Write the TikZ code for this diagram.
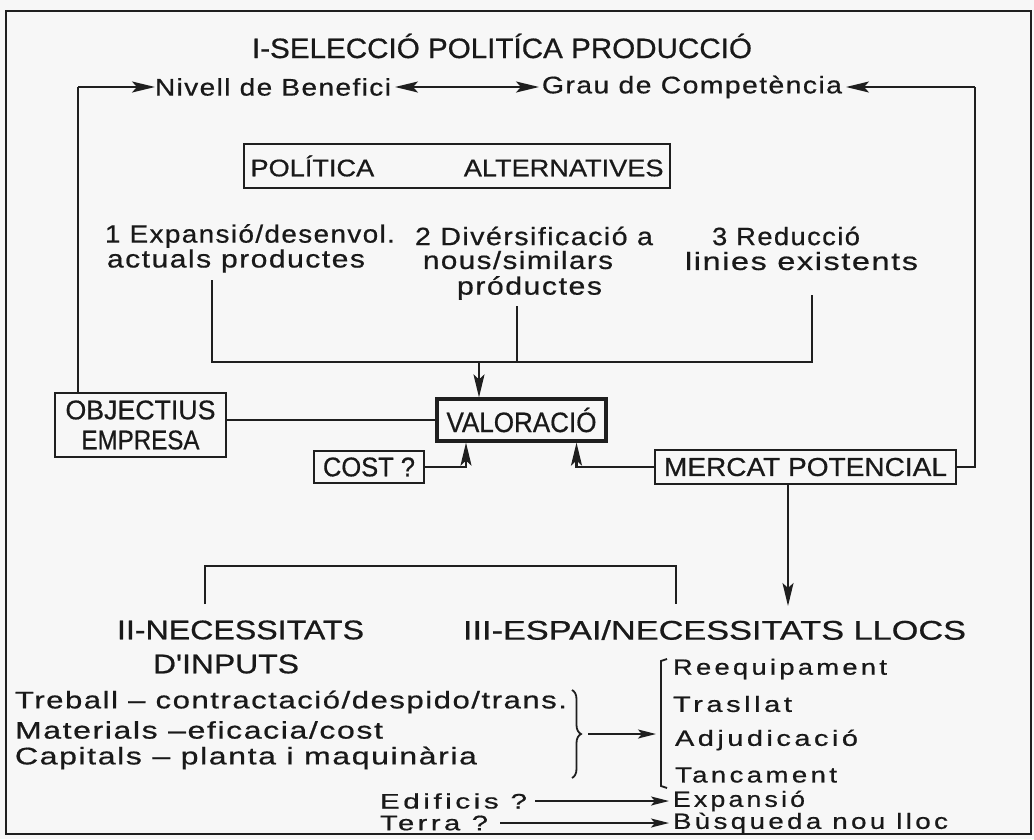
\documentclass[tikz,border=0pt]{standalone}
\usepackage{fontspec}
\setmainfont[FakeBold=0.6]{Liberation Sans}
\newfontfamily\spf[LetterSpace=5,FakeBold=0.6]{Liberation Sans}
\newfontfamily\rsp[LetterSpace=12,FakeBold=0.6]{Liberation Sans}
\usetikzlibrary{arrows.meta,decorations.pathreplacing}
\newsavebox\tbox
\newcommand\T[2]{\sbox\tbox{#2}\scalebox{\fpeval{(#1)/(\the\wd\tbox)}}[1]{\usebox\tbox}}
\newcommand\fs[1]{\fontsize{#1}{#1}\selectfont}
\begin{document}
\begin{tikzpicture}[x=1pt,y=-1pt,
 ink/.style={draw=black!88, line width=2.1pt},
 txt/.style={inner sep=0pt, outer sep=0pt, anchor=west, text=black!90},
 box/.style={draw=black!88, line width=2.1pt, inner sep=0pt, text=black!90, align=center},
 arr/.style={-{Stealth[length=23pt,width=11pt,inset=5pt]}},
 darr/.style={{Stealth[length=23pt,width=11pt,inset=5pt]}-{Stealth[length=23pt,width=11pt,inset=5pt]}},
 arrs/.style={-{Stealth[length=18pt,width=9pt,inset=4pt]}},
]
\fill[gray!6] (0,0) rectangle (1034,839);
\useasboundingbox (0,0) rectangle (1034,839);
\draw[ink] (6,11) rectangle (1031,834);

% title row
\node[txt, font=\fs{28}] (title) at (252,46) {\T{500pt}{I-SELECCIÓ POLITÍCA PRODUCCIÓ}};
\node[txt, font=\fs{24}] (niv) at (155,87) {\T{236pt}{\spf Nivell de Benefici}};
\node[txt, font=\fs{24}] (grau) at (542,87) {\T{300pt}{\spf Grau de Competència}};
\coordinate (tl) at (78,87);
\coordinate (tr) at (975,87);
\draw[ink,arr] (tl) -- (niv.west);
\draw[ink,darr] ([xshift=4pt]niv.east) -- ([xshift=-3pt]grau.west);
\draw[ink,arr] (tr) -- ([xshift=4pt]grau.east);

% policy box
\node[box, font=\fs{24}, minimum width=426pt, minimum height=44pt] (pol) at (457,166) {\T{413pt}{POLÍTICA\hspace{3.3em}ALTERNATIVES}};

% alternatives
\node[txt, font=\fs{25}] (a1) at (105,236) {\T{290pt}{\spf 1 Expansió/desenvol.}};
\node[txt, font=\fs{25}] (a1b) at (107,261) {\T{258pt}{\spf actuals productes}};
\node[txt, font=\fs{25}] (a2) at (415,236) {\T{238pt}{\spf 2 Divérsificació a}};
\node[txt, font=\fs{25}] (a2b) at (423,260) {\T{190pt}{\spf nous/similars}};
\node[txt, font=\fs{25}] (a2c) at (457,288) {\T{145pt}{\spf próductes}};
\node[txt, font=\fs{25}] (a3) at (712,236) {\T{148pt}{\spf 3 Reducció}};
\node[txt, font=\fs{25}] (a3b) at (685,261) {\T{233pt}{\spf linies existents}};

% boxes
\node[box, font=\fs{27}, minimum width=171pt, minimum height=64pt] (obj) at (140.5,425) {\T{150pt}{OBJECTIUS}\\[3pt]\T{118pt}{EMPRESA}};
\node[box, font=\fs{28}, line width=3.2pt, minimum width=169pt, minimum height=42pt] (val) at (521.5,420) {\T{150pt}{VALORACIÓ}};
\node[box, font=\fs{27}, minimum width=110pt, minimum height=32pt] (cost) at (369,467) {\T{92pt}{COST ?}};
\node[box, font=\fs{26}, minimum width=301pt, minimum height=34pt] (merc) at (805.5,467) {\T{283pt}{MERCAT POTENCIAL}};

% alternatives connectors
\coordinate (v1) at (212,280);
\coordinate (v2) at (517,306);
\coordinate (v3) at (812,295);
\coordinate (j) at (479,362);
\draw[ink] (v1) |- (j -| v3) -- (v3);
\draw[ink] (v2) -- (v2 |- j);
\draw[ink,arr] (j) -- (val.north -| j);

% other connectors
\draw[ink] (tl) -- (tl |- obj.north);
\draw[ink] (obj.east |- val.west) -- (val.west);
\draw[ink,arr] (cost.east) -| ([xshift=-55.5pt]val.south);
\draw[ink,arr] (merc.west) -| ([xshift=55pt]val.south);
\draw[ink] (merc.east) -| (tr);
\coordinate (m3) at (788,606);
\draw[ink,arr] ([xshift=-17.5pt]merc.south) -- (m3);

% section headings
\node[txt, font=\fs{27}] (ii) at (117,630) {\T{247pt}{II-NECESSITATS}};
\node[txt, font=\fs{27}] (iib) at (153,664) {\T{146pt}{D\textquotesingle INPUTS}};
\node[txt, font=\fs{27}] (iii) at (463,630) {\T{503pt}{III-ESPAI/NECESSITATS LLOCS}};
\coordinate (b1) at (205,604);
\coordinate (b2) at (676,604);
\draw[ink] (b1) -- ++(0,-38) -| (b2);

% inputs list
\node[txt, font=\fs{24}] (l1) at (15,702) {\T{552pt}{\spf Treball – contractació/despido/trans.}};
\node[txt, font=\fs{24}] (l2) at (15,730) {\T{368pt}{\spf Materials –eficacia/cost}};
\node[txt, font=\fs{24}] (l3) at (15,758) {\T{462pt}{\spf Capitals – planta i maquinària}};
\draw[ink, line width=1.8pt, decorate, decoration={brace, amplitude=9pt}] (572,690) -- (572,778);
\coordinate (bt) at (588,734);
\coordinate (bk) at (656,734);
\draw[ink,arrs] (bt) -- (bk);
\draw[ink, line width=1.8pt] (667,659) -- (661,661) -- (661,786) -- (667,788);

% places list
\node[txt, font=\fs{22}] (r1) at (673,669) {\T{214pt}{\rsp Reequipament}};
\node[txt, font=\fs{22}] (r2) at (673,704) {\T{119pt}{\rsp Trasllat}};
\node[txt, font=\fs{22}] (r3) at (675,740) {\T{183pt}{\rsp Adjudicació}};
\node[txt, font=\fs{22}] (r4) at (675,775) {\T{162pt}{\rsp Tancament}};
\node[txt, font=\fs{22}] (r5) at (673,801) {\T{132pt}{\rsp Expansió}};
\node[txt, font=\fs{22}] (r6) at (673,823) {\T{275pt}{\rsp Bùsqueda nou lloc}};
\node[txt, font=\fs{21}] (e1) at (380,801) {\T{147pt}{\rsp Edificis ?}};
\node[txt, font=\fs{21}] (e2) at (380,823) {\T{108pt}{\rsp Terra ?}};
\draw[ink,arrs] ([xshift=8pt]e1.east) -- ([xshift=-4pt]r5.west);
\draw[ink,arrs] ([xshift=12pt]e2.east) -- ([xshift=-4pt]r6.west);
\end{tikzpicture}
\end{document}
